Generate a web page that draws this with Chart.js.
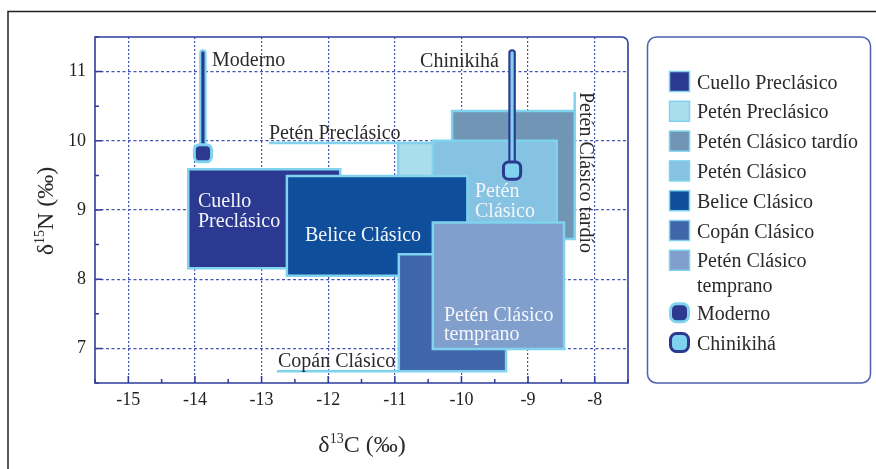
<!DOCTYPE html>
<html>
<head>
<meta charset="utf-8">
<script src="https://cdn.jsdelivr.net/npm/chart.js@4"></script>
<style>
  html, body { margin: 0; padding: 0; background: #fff; }
</style>
</head>
<body>
<canvas id="isoChart" width="876" height="469"></canvas>
<script>
// grupos (orden de dibujo: de abajo hacia arriba, igual que la leyenda)
const groups = ['Cuello Preclásico', 'Petén Preclásico', 'Petén Clásico tardío', 'Petén Clásico',
                'Belice Clásico', 'Copán Clásico', 'Petén Clásico temprano'];
const c13Min = [-14.10, -10.95, -10.14, -10.43, -12.62, -10.94, -10.43];
const c13Max = [-11.82, -9.50, -8.30, -8.57, -9.91, -9.33, -8.46];
const n15Min = [8.16, 9.00, 8.58, 8.80, 8.05, 6.67, 6.99];
const n15Max = [9.59, 9.97, 10.43, 10.00, 9.49, 8.36, 8.82];

// puntos individuales
const pointNames = ['Moderno', 'Chinikihá'];
const pointC13 = [-13.88, -9.24];
const pointN15 = [9.82, 9.57];
const stemTopN15 = [11.27, 11.27];

// ticks
const xTickValues = [-15, -14, -13, -12, -11, -10, -9, -8];
const yTickValues = [7, 8, 9, 10, 11];

// estilos
const fillColors = ['#2b3990', '#abdeed', '#7196b5', '#86c2e1', '#0f4e9b', '#3f66a9', '#809fcc'];
const edgeColor = '#7fd3ee';
const navy = '#2b3990';
const cyan = '#7fd3ee';
const axisBlue = '#2e3c9c';
const gridColor = '#4655b4';
const serif = "'Liberation Serif', 'Times New Roman', serif";

function rectPath(i) {
    return [
        { x: c13Min[i], y: n15Min[i] }, { x: c13Max[i], y: n15Min[i] },
        { x: c13Max[i], y: n15Max[i] }, { x: c13Min[i], y: n15Max[i] },
        { x: c13Min[i], y: n15Min[i] }
    ];
}

const datasets = [];

groups.forEach((name, i) => {
    datasets.push({
        label: name,
        data: rectPath(i),
        showLine: true,
        fill: 'shape',
        backgroundColor: fillColors[i],
        borderColor: edgeColor,
        borderWidth: 2.5,
        borderJoinStyle: 'miter',
        borderCapStyle: 'square',
        tension: 0,
        pointRadius: 0,
        pointHoverRadius: 0,
        order: 100 - i
    });
});

// tallo + marcador para Moderno y Chinikihá
const stemOuter = [cyan, navy];
const stemInner = [navy, cyan];
pointNames.forEach((name, i) => {
    const stem = [{ x: pointC13[i], y: stemTopN15[i] }, { x: pointC13[i], y: pointN15[i] }];
    datasets.push({
        label: name + ' borde', data: stem, showLine: true, fill: false,
        borderColor: stemOuter[i], borderWidth: 7.5, borderCapStyle: 'round',
        pointRadius: 0, pointHoverRadius: 0, order: 20 - i * 5
    });
    datasets.push({
        label: name + ' tallo', data: stem, showLine: true, fill: false,
        borderColor: stemInner[i], borderWidth: 3.2, borderCapStyle: 'round',
        pointRadius: 0, pointHoverRadius: 0, order: 19 - i * 5
    });
    datasets.push({
        label: name, data: [{ x: pointC13[i], y: pointN15[i] }], showLine: false,
        pointStyle: 'rectRounded', pointRadius: 10,
        pointBackgroundColor: stemInner[i], pointBorderColor: stemOuter[i], pointBorderWidth: 3,
        pointHoverRadius: 10, order: 18 - i * 5
    });
});

// textos sobre el gráfico (posiciones en píxeles)
const notes = [
    { t: 'Moderno', x: 212, y: 66, c: '#2a2a2a' },
    { t: 'Chinikihá', x: 499, y: 67, c: '#2a2a2a', a: 'right' },
    { t: 'Petén Preclásico', x: 269, y: 139, c: '#2a2a2a' },
    { t: 'Copán Clásico', x: 278, y: 367, c: '#2a2a2a' },
    { t: 'Cuello', x: 198, y: 207, c: '#f4f6fb' },
    { t: 'Preclásico', x: 198, y: 227, c: '#f4f6fb' },
    { t: 'Belice Clásico', x: 305, y: 241, c: '#f4f6fb' },
    { t: 'Petén', x: 475, y: 197, c: '#f4f6fb' },
    { t: 'Clásico', x: 475, y: 217, c: '#f4f6fb' },
    { t: 'Petén Clásico', x: 444, y: 321, c: '#f4f6fb' },
    { t: 'temprano', x: 444, y: 340, c: '#f4f6fb' }
];

function drawSupLabel(ctx, parts, size) {
    // parts: [texto, sup, texto]
    const supSize = Math.round(size * 0.58);
    ctx.font = size + 'px ' + serif;
    const w0 = ctx.measureText(parts[0]).width;
    const w2 = ctx.measureText(parts[2]).width;
    ctx.font = supSize + 'px ' + serif;
    const w1 = ctx.measureText(parts[1]).width;
    const total = w0 + w1 + w2;
    let x = -total / 2;
    ctx.font = size + 'px ' + serif;
    ctx.fillText(parts[0], x, 0);
    x += w0;
    ctx.font = supSize + 'px ' + serif;
    ctx.fillText(parts[1], x, -size * 0.36);
    x += w1;
    ctx.font = size + 'px ' + serif;
    ctx.fillText(parts[2], x, 0);
}

const framePlugin = {
    id: 'frame',
    beforeDatasetsDraw(chart) {
        const { ctx, chartArea: a, scales } = chart;
        ctx.save();
        // marco exterior
        ctx.strokeStyle = '#222';
        ctx.lineWidth = 1.5;
        ctx.beginPath();
        ctx.moveTo(8, 469);
        ctx.lineTo(8, 11.5);
        ctx.lineTo(876, 11.5);
        ctx.stroke();
        // caja del gráfico
        ctx.strokeStyle = axisBlue;
        ctx.lineWidth = 1.6;
        ctx.beginPath();
        ctx.moveTo(a.left, a.bottom);
        ctx.lineTo(a.left, a.top);
        ctx.arcTo(a.right, a.top, a.right, a.bottom, 6);
        ctx.lineTo(a.right, a.bottom);
        ctx.closePath();
        ctx.stroke();
        // ticks hacia adentro
        ctx.lineWidth = 1.5;
        ctx.beginPath();
        for (let v = -15.5; v <= -7.5; v += 0.5) {
            const px = scales.x.getPixelForValue(v);
            const len = Number.isInteger(v) ? 7 : 4;
            ctx.moveTo(px, a.bottom);
            ctx.lineTo(px, a.bottom - len);
        }
        for (let v = 6.5; v <= 11.5; v += 0.5) {
            const py = scales.y.getPixelForValue(v);
            const len = Number.isInteger(v) ? 7 : 4;
            ctx.moveTo(a.left, py);
            ctx.lineTo(a.left + len, py);
        }
        ctx.stroke();
        // leyenda (caja)
        ctx.strokeStyle = '#5060b0';
        ctx.lineWidth = 1.5;
        ctx.beginPath();
        ctx.roundRect(647.5, 37, 223, 346, 9);
        ctx.stroke();
        ctx.restore();
    },
    afterDatasetsDraw(chart) {
        const { ctx, scales } = chart;
        const sx = scales.x, sy = scales.y;
        ctx.save();
        // líneas guía de etiquetas
        ctx.strokeStyle = edgeColor;
        ctx.lineWidth = 2.5;
        ctx.beginPath();
        let yy = sy.getPixelForValue(n15Max[1]);
        ctx.moveTo(269, yy);
        ctx.lineTo(sx.getPixelForValue(c13Min[1]), yy);
        yy = sy.getPixelForValue(n15Min[5]);
        ctx.moveTo(277, yy);
        ctx.lineTo(sx.getPixelForValue(c13Min[5]), yy);
        const xx = sx.getPixelForValue(c13Max[2]);
        ctx.moveTo(xx, 92);
        ctx.lineTo(xx, sy.getPixelForValue(n15Max[2]));
        ctx.stroke();

        // textos
        ctx.font = '20px ' + serif;
        ctx.textBaseline = 'alphabetic';
        notes.forEach(n => {
            ctx.fillStyle = n.c;
            ctx.textAlign = n.a || 'left';
            ctx.fillText(n.t, n.x, n.y);
        });
        // texto vertical
        ctx.save();
        ctx.translate(580, 92);
        ctx.rotate(Math.PI / 2);
        ctx.textAlign = 'left';
        ctx.fillStyle = '#2a2a2a';
        ctx.fillText('Petén Clásico tardío', 0, 0);
        ctx.restore();

        // títulos de ejes
        ctx.fillStyle = '#2a2a2a';
        ctx.textAlign = 'left';
        ctx.save();
        ctx.translate(362, 452);
        drawSupLabel(ctx, ['δ', '13', 'C (‰)'], 24);
        ctx.restore();
        ctx.save();
        ctx.translate(53, 211);
        ctx.rotate(-Math.PI / 2);
        drawSupLabel(ctx, ['δ', '15', 'N (‰)'], 24);
        ctx.restore();

        // leyenda
        const items = groups.map((g, i) => ({ name: g, kind: 'box', fill: fillColors[i], edge: edgeColor }))
            .concat(pointNames.map((p, i) => ({ name: p, kind: 'mark', fill: stemInner[i], edge: stemOuter[i] })));
        let rowY = 81.5;
        ctx.font = '20px ' + serif;
        items.forEach(it => {
            if (it.kind === 'box') {
                ctx.fillStyle = it.fill;
                ctx.fillRect(669.5, rowY - 10, 20, 20);
                ctx.strokeStyle = it.edge;
                ctx.lineWidth = 1.5;
                ctx.strokeRect(669.5, rowY - 10, 20, 20);
            } else {
                ctx.fillStyle = it.fill;
                ctx.strokeStyle = it.edge;
                ctx.lineWidth = 3;
                ctx.beginPath();
                ctx.roundRect(670.5, rowY - 9, 18, 18, 6);
                ctx.fill();
                ctx.stroke();
            }
            // texto con salto de línea si no cabe
            ctx.fillStyle = '#2a2a2a';
            const words = it.name.split(' ');
            const lines = [];
            let cur = '';
            words.forEach(w => {
                const test = cur ? cur + ' ' + w : w;
                if (ctx.measureText(test).width > 168 && cur) { lines.push(cur); cur = w; }
                else cur = test;
            });
            lines.push(cur);
            lines.forEach((ln, k) => ctx.fillText(ln, 697, rowY + 7 + k * 25));
            rowY += 29.8 + (lines.length - 1) * 22.6;
        });
        ctx.restore();
    }
};

const ctx = document.getElementById('isoChart').getContext('2d');
new Chart(ctx, {
    type: 'scatter',
    data: { datasets: datasets },
    options: {
        responsive: false,
        animation: false,
        events: [],
        layout: { padding: { left: 0, top: 37, right: 248, bottom: 0 } },
        plugins: { legend: { display: false }, tooltip: { enabled: false } },
        scales: {
            x: {
                type: 'linear',
                min: -15.5,
                max: -7.5,
                afterFit: s => { s.height = 86; },
                afterBuildTicks: s => { s.ticks = xTickValues.map(v => ({ value: v })); },
                grid: { color: gridColor, lineWidth: 1.2, drawTicks: false },
                border: { display: false, dash: [2, 2] },
                ticks: { padding: 6, color: '#222', font: { family: serif, size: 18 }, callback: v => String(v) }
            },
            y: {
                type: 'linear',
                min: 6.5,
                max: 11.5,
                afterFit: s => { s.width = 95; },
                afterBuildTicks: s => { s.ticks = yTickValues.map(v => ({ value: v })); },
                grid: { color: gridColor, lineWidth: 1.2, drawTicks: false },
                border: { display: false, dash: [3, 2.5] },
                ticks: { padding: 9, color: '#222', font: { family: serif, size: 18 }, callback: v => String(v) }
            }
        }
    },
    plugins: [framePlugin]
});
</script>
</body>
</html>
